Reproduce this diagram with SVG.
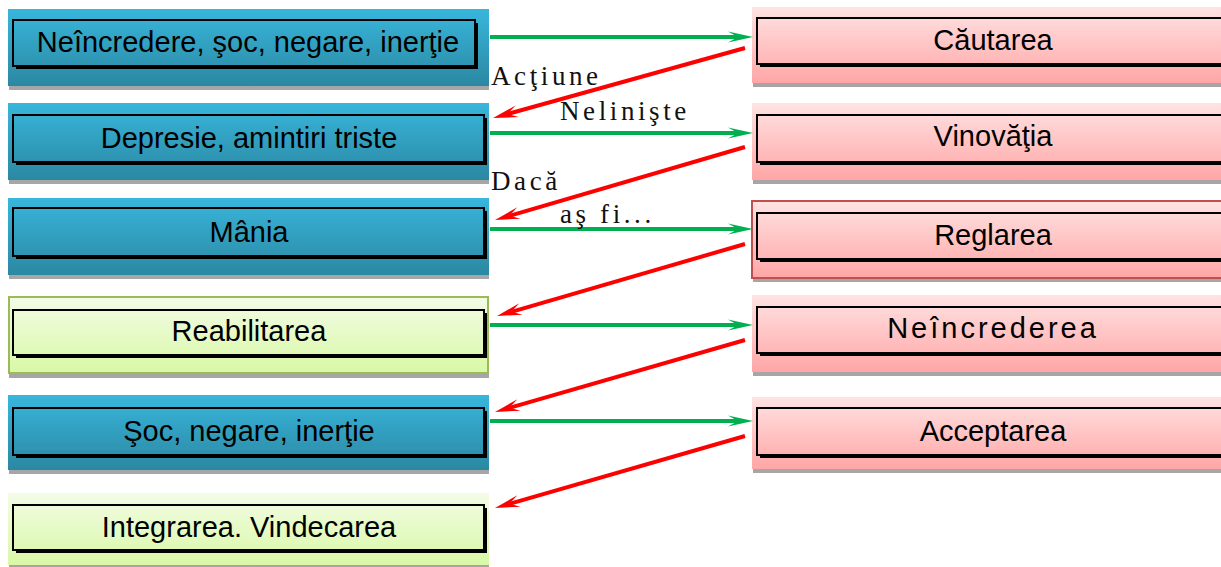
<svg xmlns="http://www.w3.org/2000/svg" width="1221" height="567" viewBox="0 0 1221 567">
<defs>
<linearGradient id="gBlue" x1="0" y1="0" x2="0" y2="1"><stop offset="0" stop-color="#38b6dc"/><stop offset="1" stop-color="#2b88a2"/></linearGradient>
<linearGradient id="gPink" x1="0" y1="0" x2="0" y2="1"><stop offset="0" stop-color="#ffe3e3"/><stop offset="1" stop-color="#ffa6a6"/></linearGradient>
<linearGradient id="gGreen" x1="0" y1="0" x2="0" y2="1"><stop offset="0" stop-color="#f3fce6"/><stop offset="1" stop-color="#d9f8a6"/></linearGradient>
<marker id="aG" viewBox="0 -7 26 14" refX="10" refY="0" markerWidth="26" markerHeight="14" markerUnits="userSpaceOnUse" orient="auto"><path d="M0,-5.5 L25,0 L0,5.5 L10,0 Z" fill="#00b050"/></marker>
<marker id="aR" viewBox="0 -7 26 14" refX="10" refY="0" markerWidth="26" markerHeight="14" markerUnits="userSpaceOnUse" orient="auto"><path d="M0,-6 L25,0 L0,6 L10,0 Z" fill="#ff0000"/></marker>
</defs>
<style>
.sh{fill:#a6a6a6}
.blue{fill:url(#gBlue)}
.pink{fill:url(#gPink)}
.green{fill:url(#gGreen);stroke:#9bbb59;stroke-width:2}
.pinkb{fill:url(#gPink);stroke:#c0504d;stroke-width:2}
.in{fill:none;stroke:#000;stroke-width:2}
.ins{fill:none;stroke:#000;stroke-width:2}
.t{font-family:"Liberation Sans",Arial,sans-serif;font-size:29px;fill:#000;text-anchor:middle}
.lbl{font-family:"Liberation Serif","Times New Roman",serif;font-size:27px;letter-spacing:3.6px;fill:#111}
.gl{stroke:#00b050;stroke-width:4;fill:none;marker-end:url(#aG)}
.rl{stroke:#ff0000;stroke-width:4;fill:none;marker-end:url(#aR)}
</style>

<g id="n1">
<rect class="sh" x="9" y="86" width="480" height="4"/>
<rect class="blue" x="8" y="9" width="481" height="77"/>
<rect class="in" x="13" y="20" width="462" height="46"/>
<path class="ins" d="M477,23 V68 H16"/>
<text class="t" x="248" y="52">Neîncredere, şoc, negare, inerţie</text>
</g>
<g id="n2">
<rect class="sh" x="9" y="180" width="480" height="4"/>
<rect class="blue" x="8" y="103" width="481" height="77"/>
<rect class="in" x="13" y="115" width="471" height="47"/>
<path class="ins" d="M486,118 V164 H16"/>
<text class="t" x="249" y="148">Depresie, amintiri triste</text>
</g>
<g id="n3">
<rect class="sh" x="9" y="275" width="480" height="4"/>
<rect class="blue" x="8" y="198" width="481" height="77"/>
<rect class="in" x="13" y="208" width="471" height="48"/>
<path class="ins" d="M486,211 V258 H16"/>
<text class="t" x="249" y="242">Mânia</text>
</g>
<g id="n4">
<rect class="sh" x="9" y="374" width="480" height="4"/>
<rect class="green" x="9" y="297" width="479" height="76"/>
<rect class="in" x="13" y="310" width="471" height="45"/>
<path class="ins" d="M486,313 V357 H16"/>
<text class="t" x="249" y="341">Reabilitarea</text>
</g>
<g id="n5">
<rect class="sh" x="9" y="470" width="480" height="4"/>
<rect class="blue" x="8" y="395" width="481" height="75"/>
<rect class="in" x="13" y="408" width="471" height="47"/>
<path class="ins" d="M486,411 V457 H16"/>
<text class="t" x="249" y="441">Şoc, negare, inerţie</text>
</g>
<g id="n6">
<rect class="sh" x="9" y="565" width="480" height="2"/>
<rect fill="url(#gGreen)" x="8" y="493" width="481" height="72"/>
<rect class="in" x="13" y="505" width="471" height="45"/>
<path class="ins" d="M486,508 V552 H16"/>
<text class="t" x="249" y="537">Integrarea. Vindecarea</text>
</g>

<g id="m1">
<rect class="sh" x="753" y="83" width="480" height="4"/>
<rect class="pink" x="752" y="7" width="481" height="76"/>
<rect class="in" x="757" y="18" width="471" height="46"/>
<path class="ins" d="M1230,21 V66 H760"/>
<text class="t" x="993" y="50">Căutarea</text>
</g>
<g id="m2">
<rect class="sh" x="753" y="180" width="480" height="4"/>
<rect class="pink" x="752" y="103" width="481" height="77"/>
<rect class="in" x="757" y="115" width="471" height="47"/>
<path class="ins" d="M1230,118 V164 H760"/>
<text class="t" x="993" y="146">Vinovăţia</text>
</g>
<g id="m3">
<rect class="sh" x="753" y="278" width="480" height="4"/>
<rect class="pinkb" x="752" y="201" width="481" height="77"/>
<rect class="in" x="757" y="213" width="471" height="46"/>
<path class="ins" d="M1230,216 V261 H760"/>
<text class="t" x="993" y="245">Reglarea</text>
</g>
<g id="m4">
<rect class="sh" x="753" y="372" width="480" height="4"/>
<rect class="pink" x="752" y="295" width="481" height="77"/>
<rect class="in" x="757" y="307" width="471" height="46"/>
<path class="ins" d="M1230,310 V355 H760"/>
<text class="t" x="993" y="338" style="letter-spacing:3px">Neîncrederea</text>
</g>
<g id="m5">
<rect class="sh" x="753" y="469" width="480" height="4"/>
<rect class="pink" x="752" y="397" width="481" height="72"/>
<rect class="in" x="757" y="408" width="471" height="47"/>
<path class="ins" d="M1230,411 V457 H760"/>
<text class="t" x="993" y="441">Acceptarea</text>
</g>

<g id="connectors">
<line class="gl" x1="490" y1="37" x2="738" y2="37"/>
<line class="gl" x1="490" y1="133" x2="738" y2="133"/>
<line class="gl" x1="490" y1="229" x2="738" y2="229"/>
<line class="gl" x1="490" y1="325" x2="738" y2="325"/>
<line class="gl" x1="490" y1="421" x2="738" y2="421"/>
<line class="rl" x1="745" y1="48" x2="507.5" y2="114"/>
<line class="rl" x1="745" y1="147" x2="509.4" y2="215.8"/>
<line class="rl" x1="745" y1="244" x2="511.4" y2="311.8"/>
<line class="rl" x1="745" y1="340" x2="509.4" y2="407.8"/>
<line class="rl" x1="745" y1="436" x2="509.4" y2="503.8"/>
</g>

<g id="labels">
<text class="lbl" x="491" y="85">Acţiune</text>
<text class="lbl" x="560" y="120">Nelinişte</text>
<text class="lbl" x="491" y="190">Dacă</text>
<text class="lbl" x="560" y="223">aş fi...</text>
</g>
</svg>
